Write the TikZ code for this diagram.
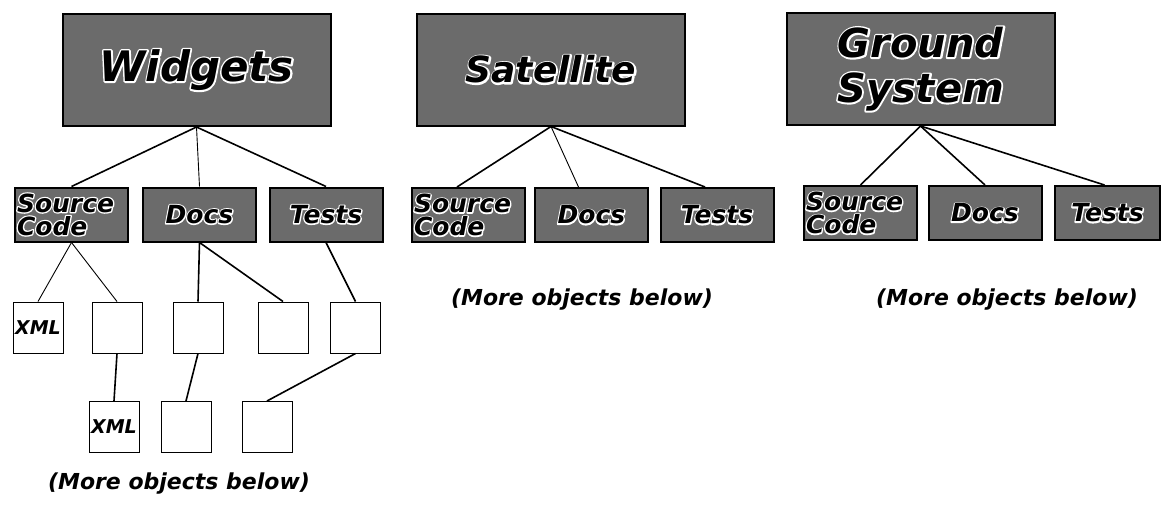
\documentclass[tikz,border=0pt]{standalone}
\usepackage{fontspec}
\setmainfont{DejaVu Sans}
\usepackage{tikz}
\newcommand\outl[2][3.4]{\leavevmode\rlap{\special{pdf:literal direct q 1 1 1 RG #1 w 1 j 1 Tr}#2\special{pdf:literal direct Q}}#2}
\begin{document}
\begin{tikzpicture}[x=1pt,y=1pt]
\tikzstyle{every node}+=[inner sep=0pt]
\tikzstyle{bigbox}=[draw, line width=2pt, fill=black!58, minimum width=268pt, minimum height=112pt]
\tikzstyle{subbox}=[draw, line width=2pt, fill=black!58, minimum width=113pt, minimum height=54pt, font=\fontsize{25}{23}\selectfont\bfseries\itshape]
\tikzstyle{leaf}=[draw, line width=1pt, fill=white, minimum width=50pt, minimum height=51pt, font=\fontsize{19}{19}\selectfont\bfseries\itshape]
\tikzstyle{more}=[font=\fontsize{22}{22}\selectfont\bfseries\itshape]
\tikzstyle{edge}=[line width=1.6pt]
\tikzstyle{thin}=[line width=0.9pt]
\useasboundingbox (0,0) rectangle (1161,-504);
\node [bigbox, font=\fontsize{42}{42}\selectfont\bfseries\itshape] (widgets) at (196.5,-70) {\outl{Widgets}};
\node [bigbox, font=\fontsize{36}{36}\selectfont\bfseries\itshape] (sat) at (551,-69.5) {\outl{Satellite}};
\node [bigbox, align=center, font=\fontsize{40}{45}\selectfont\bfseries\itshape] (ground) at (920.5,-69) {\outl{Ground}\\\outl{System}};
\node [subbox, text width=109pt, align=left] (wsrc) at (71.5,-214.5) {\outl[2.6]{Source}\\\outl[2.6]{Code}};
\node [subbox] (wdocs) at (199.5,-214.5) {\outl[2.6]{Docs}};
\node [subbox] (wtests) at (326,-214.5) {\outl[2.6]{Tests}};
\node [subbox, text width=108pt, align=left] (ssrc) at (468,-215) {\outl[2.6]{Source}\\\outl[2.6]{Code}};
\node [subbox] (sdocs) at (591.5,-215) {\outl[2.6]{Docs}};
\node [subbox] (stests) at (717,-215) {\outl[2.6]{Tests}};
\node [subbox, text width=109pt, align=left] (gsrc) at (860.5,-213) {\outl[2.6]{Source}\\\outl[2.6]{Code}};
\node [subbox] (gdocs) at (985,-213) {\outl[2.6]{Docs}};
\node [subbox, minimum width=105pt] (gtests) at (1107.5,-213) {\outl[2.6]{Tests}};
\node [leaf] (xmla) at (38,-327.5) {XML};
\node [leaf] (leafb) at (117,-327.5) {};
\node [leaf] (leafc) at (198,-327.5) {};
\node [leaf] (leafd) at (283,-327.5) {};
\node [leaf] (leafe) at (355.5,-327.5) {};
\node [leaf] (xmlb) at (114,-427) {XML};
\node [leaf] (leafg) at (186,-427) {};
\node [leaf] (leafh) at (267,-427) {};
\node [more] (wmore) at (179,-484) {(More objects below)};
\node [more] (smore) at (582,-300) {(More objects below)};
\node [more] (gmore) at (1007,-300) {(More objects below)};
\draw [edge] (widgets.south) -- (wsrc.north);
\draw [thin] (widgets.south) -- (wdocs.north);
\draw [edge] (widgets.south) -- (wtests.north);
\draw [edge] (sat.south) -- ([xshift=-11pt]ssrc.north);
\draw [thin] (sat.south) -- ([xshift=-13pt]sdocs.north);
\draw [edge] (sat.south) -- ([xshift=-12pt]stests.north);
\draw [edge] (ground.south) -- (gsrc.north);
\draw [edge] (ground.south) -- (gdocs.north);
\draw [edge] (ground.south) -- ([xshift=-3pt]gtests.north);
\draw [thin] (wsrc.south) -- (xmla.north);
\draw [thin] (wsrc.south) -- (leafb.north);
\draw [edge] (wdocs.south) -- (leafc.north);
\draw [edge] (wdocs.south) -- (leafd.north);
\draw [edge] (wtests.south) -- (leafe.north);
\draw [edge] (leafb.south) -- (xmlb.north);
\draw [edge] (leafc.south) -- (leafg.north);
\draw [edge] (leafe.south) -- (leafh.north);
\end{tikzpicture}
\end{document}
